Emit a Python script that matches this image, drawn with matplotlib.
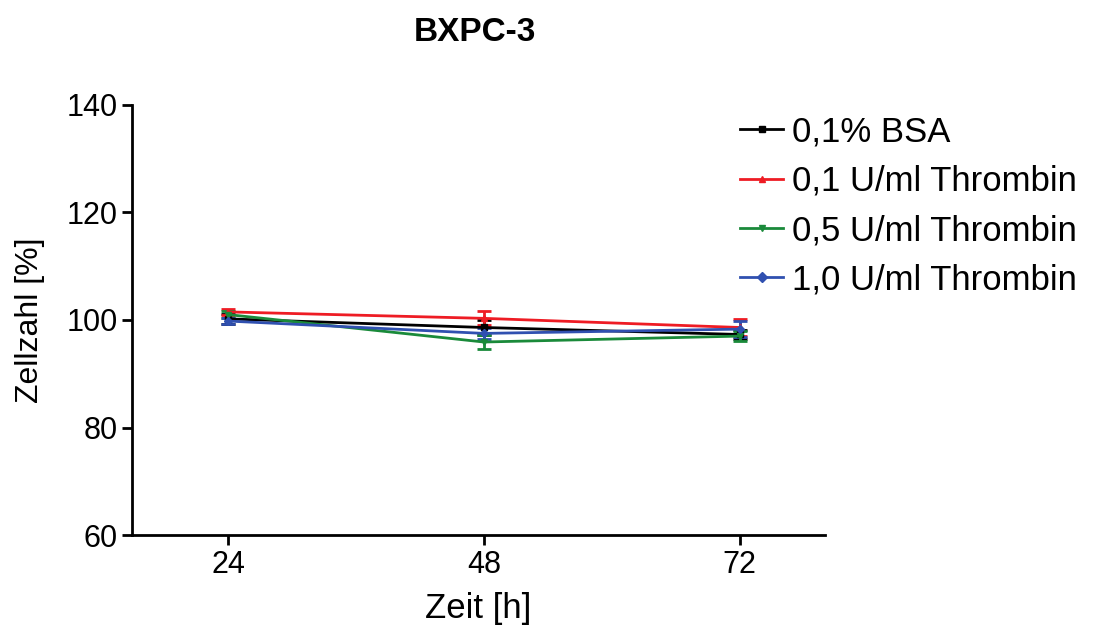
import matplotlib.pyplot as plt
from matplotlib.lines import Line2D

plt.rcParams['font.family'] = ['Liberation Sans', 'DejaVu Sans']

zeit = [24, 48, 72]
labels = ['0,1% BSA', '0,1 U/ml Thrombin', '0,5 U/ml Thrombin', '1,0 U/ml Thrombin']
bsa = [100.2, 98.6, 97.3]
bsa_err = [1.0, 1.4, 0.8]
thr01 = [101.5, 100.3, 98.6]
thr01_err = [0.5, 1.3, 1.6]
thr05 = [101.0, 95.9, 97.0]
thr05_err = [0.6, 1.3, 0.9]
thr10 = [99.8, 97.5, 98.3]
thr10_err = [0.6, 1.0, 1.5]

fig = plt.figure(figsize=(11.05, 6.28), dpi=100)
ax = fig.add_axes([0.1195, 0.148, 0.627, 0.685])

series = [(bsa, bsa_err, 'black', 's'),
          (thr01, thr01_err, '#ee1c24', '^'),
          (thr05, thr05_err, '#1a8a3a', 'v'),
          (thr10, thr10_err, '#3050b0', 'D')]

handles = []
for (y, e, c, m), lab in zip(series, labels):
    ax.errorbar(zeit, y, yerr=e, color=c, marker=m, markersize=4, lw=2,
                capsize=5, capthick=2, elinewidth=2)
    handles.append(Line2D([], [], color=c, marker=m, markersize=5, lw=2, label=lab))

ax.set_xlim(15, 80)
ax.set_ylim(60, 140)
ax.set_xticks(zeit)
ax.set_yticks([60, 80, 100, 120, 140])
ax.spines['top'].set_visible(False)
ax.spines['right'].set_visible(False)
ax.spines['left'].set_linewidth(2)
ax.spines['bottom'].set_linewidth(2)
ax.tick_params(width=2, length=7, labelsize=22, direction='out')

ax.set_xlabel('Zeit [h]', fontsize=25, labelpad=9)
ax.set_ylabel('Zellzahl [%]', fontsize=23, labelpad=15)
fig.text(0.43, 0.948, 'BXPC-3', fontsize=24, fontweight='bold', ha='center', va='center')

fig.legend(handles=handles, loc='upper left', bbox_to_anchor=(0.657, 0.838),
           frameon=False, fontsize=25, handlelength=1.25, handletextpad=0.25,
           labelspacing=0.47, borderaxespad=0)

fig.savefig('out.png', dpi=100)
